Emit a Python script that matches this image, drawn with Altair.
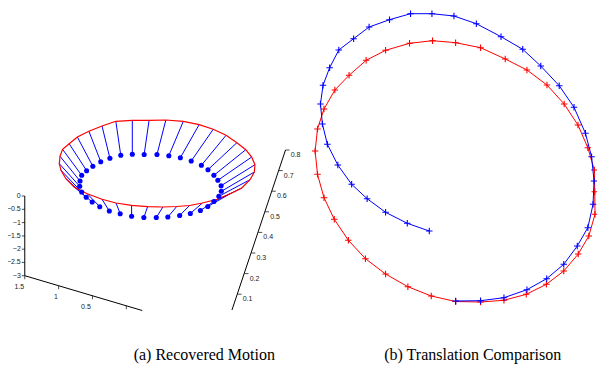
import altair as alt
import pandas as pd

# ---- panel (b): translation comparison (picture coordinates) ----
blue_x = [461.7, 487, 510.7, 534, 554, 571.3, 585, 595.7, 601, 602, 599.5, 593.3, 581.7, 566.7, 548, 529.7, 507.7,
          482.7, 460, 437.7, 416, 394.7, 374, 358.3, 343.3, 334, 327.3, 324.7, 326.7, 331.7, 342.3, 356.3, 372,
          390.7, 412.7, 435]
blue_y = [301, 300.7, 297.7, 289.7, 278.7, 264.3, 246, 227.7, 204.3, 181, 156.7, 133.3, 107.3, 85.7, 66, 49.3, 36.7,
          23.7, 16, 13.7, 13.7, 19.7, 27, 38.7, 50, 67.7, 85.3, 104, 124, 144.3, 165, 184.3, 198.7, 212.3, 223.3, 231]
red_x = [461.7, 487, 510.7, 533.3, 553.7, 571.3, 586, 596.7, 603, 602.7, 602.3, 595.7, 585.7, 571.7, 554.3, 534, 512,
         487, 461.7, 438.3, 415, 390.7, 371, 353.7, 339.3, 328.3, 321.7, 319.3, 321.7, 328.3, 338.7, 353, 370.3,
         390.7, 413.3, 437, 461.7]
red_y = [301.5, 302, 300.3, 294.3, 284.3, 271, 254, 236, 214.3, 191.7, 170, 147.7, 125, 104, 85, 70, 59, 47.7, 42.7,
         40.7, 43.3, 50.3, 60.3, 75.3, 90, 109, 129, 151, 174.3, 197.7, 219.3, 240.3, 258.7, 274, 286.7, 296, 301.5]

# ---- panel (a): recovered motion (projected picture coordinates) ----
dot_x = [122.3, 134, 146, 159, 171, 182.7, 193.7, 204, 210.7, 216.7, 220.7, 224, 224.2, 221.7, 216.7, 210.5, 203,
         192.8, 182, 170, 158.3, 145.7, 133.3, 121.7, 110.7, 101, 93.3, 87.3, 82.7, 80.7, 81, 82.7, 87.7, 94, 102, 111.3]
dot_y = [155.3, 154.3, 154.5, 154.5, 155.7, 157.7, 161, 165.3, 169.7, 175.3, 180.3, 185.7, 191.3, 196.3, 201.5, 206.5,
         210.5, 213.5, 215.5, 217, 217.5, 217.5, 216.3, 213.7, 211, 206.7, 202, 197.3, 192, 186.3, 181, 175.3, 170.7,
         166.3, 161.7, 158.3]
ring_x = [117.3, 134, 151, 168, 185.7, 201.7, 216, 229, 240, 249, 255, 258.3, 257.7, 253.3, 245, 233.3, 220, 205, 192,
          179, 165, 149.5, 133.3, 117.5, 103.3, 88.3, 75, 66.7, 61.7, 60, 60.7, 63.3, 70, 78.3, 90, 103.3]
ring_y = [121.3, 120.3, 120.3, 120, 121.3, 124.7, 129.3, 135.3, 142.7, 149.7, 157, 164.7, 172, 179.7, 188, 193.7,
          199.3, 203, 205.5, 206.5, 207, 206.7, 205.3, 203, 199.3, 193.7, 187, 178.7, 170.3, 163.7, 156.3, 149.3,
          143.7, 137, 131.3, 126]

# 3D axes of panel (a)
z_labels = ["0", "−0.5", "−1", "−1.5", "−2", "−2.5", "−3"]
z_tick_y = [196, 209.3, 222.6, 235.9, 249.2, 262.4, 275.7]
z_axis_x = 25
x_labels = ["1.5", "1", "0.5"]
x_tick_x = [25, 59.3, 93.6, 127.9]
x_tick_y = [275.7, 285.7, 295.7, 305.7]
x_label_x = [19.5, 56.5, 87]
x_label_y = [287, 297, 306.5]
x_axis_end = (144, 310.5)
y_labels = ["0.8", "0.7", "0.6", "0.5", "0.4", "0.3", "0.2", "0.1"]
y_tick_x = [289.3, 282.4, 275.4, 268.5, 261.6, 254.6, 247.7, 240.7]
y_tick_y = [150, 170.6, 191.2, 211.8, 232.4, 253, 273.6, 294.2]
y_axis_end = (235, 310)

captions = ["(a) Recovered Motion", "(b) Translation Comparison"]
caption_x = [207, 479]
caption_y = [355, 355]

BLUE = "#0000ff"
RED = "#ff0000"

X = alt.X("x:Q", scale=alt.Scale(domain=[8, 605]), axis=None)
Y = alt.Y("y:Q", scale=alt.Scale(domain=[8, 364], reverse=True), axis=None)
X2 = alt.X2("x2:Q")
Y2 = alt.Y2("y2:Q")

plus = "M-1,0L1,0M0,-1L0,1"

def series(xs, ys, color):
    df = pd.DataFrame({"x": xs, "y": ys, "i": range(len(xs))})
    base = alt.Chart(df)
    line = base.mark_line(color=color, strokeWidth=1).encode(x=X, y=Y, order="i:Q")
    pts = base.mark_point(shape=plus, color=color, strokeWidth=1.1, size=42, filled=False, opacity=1).encode(x=X, y=Y)
    return line + pts

red_layer = series(red_x, red_y, RED)
blue_layer = series(blue_x, blue_y, BLUE)

stems_df = pd.DataFrame({"x": dot_x, "y": dot_y, "x2": ring_x, "y2": ring_y})
stems = alt.Chart(stems_df).mark_rule(color=BLUE, strokeWidth=1).encode(x=X, y=Y, x2=X2, y2=Y2)

ring_df = pd.DataFrame({"x": ring_x + ring_x[:1], "y": ring_y + ring_y[:1], "i": range(len(ring_x) + 1)})
ring = alt.Chart(ring_df).mark_line(color=RED, strokeWidth=1.2).encode(x=X, y=Y, order="i:Q")

dots_df = pd.DataFrame({"x": dot_x, "y": dot_y})
dots = alt.Chart(dots_df).mark_circle(color=BLUE, size=26, opacity=1).encode(x=X, y=Y)

# axis lines
axis_lines_df = pd.DataFrame({
    "x": [z_axis_x, x_tick_x[0], y_tick_x[0]],
    "y": [z_tick_y[0], x_tick_y[0], y_tick_y[0]],
    "x2": [z_axis_x, x_axis_end[0], y_axis_end[0]],
    "y2": [z_tick_y[-1], x_axis_end[1], y_axis_end[1]],
})
axis_lines = alt.Chart(axis_lines_df).mark_rule(color="black", strokeWidth=1).encode(x=X, y=Y, x2=X2, y2=Y2)

z_ticks_df = pd.DataFrame({"x": [z_axis_x] * len(z_tick_y), "y": z_tick_y, "label": z_labels})
z_ticks = alt.Chart(z_ticks_df).mark_tick(color="black", orient="horizontal", size=3, thickness=1,
                                           xOffset=-1.5).encode(x=X, y=Y)
z_text = alt.Chart(z_ticks_df).mark_text(align="right", baseline="middle", dx=-4, fontSize=7,
                                         font="Liberation Sans", color="#222").encode(x=X, y=Y, text="label:N")

x_ticks_df = pd.DataFrame({"x": x_tick_x, "y": x_tick_y})
x_ticks = alt.Chart(x_ticks_df).mark_tick(color="black", orient="vertical", size=3.5, thickness=1,
                                           yOffset=1.75).encode(x=X, y=Y)
x_text_df = pd.DataFrame({"x": x_label_x, "y": x_label_y, "label": x_labels})
x_text = alt.Chart(x_text_df).mark_text(align="center", baseline="middle", fontSize=7,
                                        font="Liberation Sans", color="#222").encode(x=X, y=Y, text="label:N")

y_ticks_df = pd.DataFrame({"x": y_tick_x, "y": y_tick_y, "label": y_labels})
y_ticks = alt.Chart(y_ticks_df).mark_tick(color="black", orient="horizontal", size=4, thickness=1,
                                           xOffset=2).encode(x=X, y=Y)
y_text = alt.Chart(y_ticks_df).mark_text(align="center", baseline="middle", dx=10, dy=5, fontSize=7,
                                         font="Liberation Sans", color="#222").encode(x=X, y=Y, text="label:N")

cap_df = pd.DataFrame({"x": caption_x, "y": caption_y, "label": captions})
cap = alt.Chart(cap_df).mark_text(align="center", baseline="middle", fontSize=16,
                                  font="Liberation Serif", color="black").encode(x=X, y=Y, text="label:N")

chart = alt.layer(
    axis_lines, z_ticks, z_text, x_ticks, x_text, y_ticks, y_text,
    stems, ring, dots, red_layer, blue_layer, cap
).properties(
    width=589, height=356,
    autosize=alt.AutoSizeParams(type="none"),
    padding=0,
).configure_view(stroke=None)

chart.save("out.html", embed_options={"renderer": "svg", "actions": False})
